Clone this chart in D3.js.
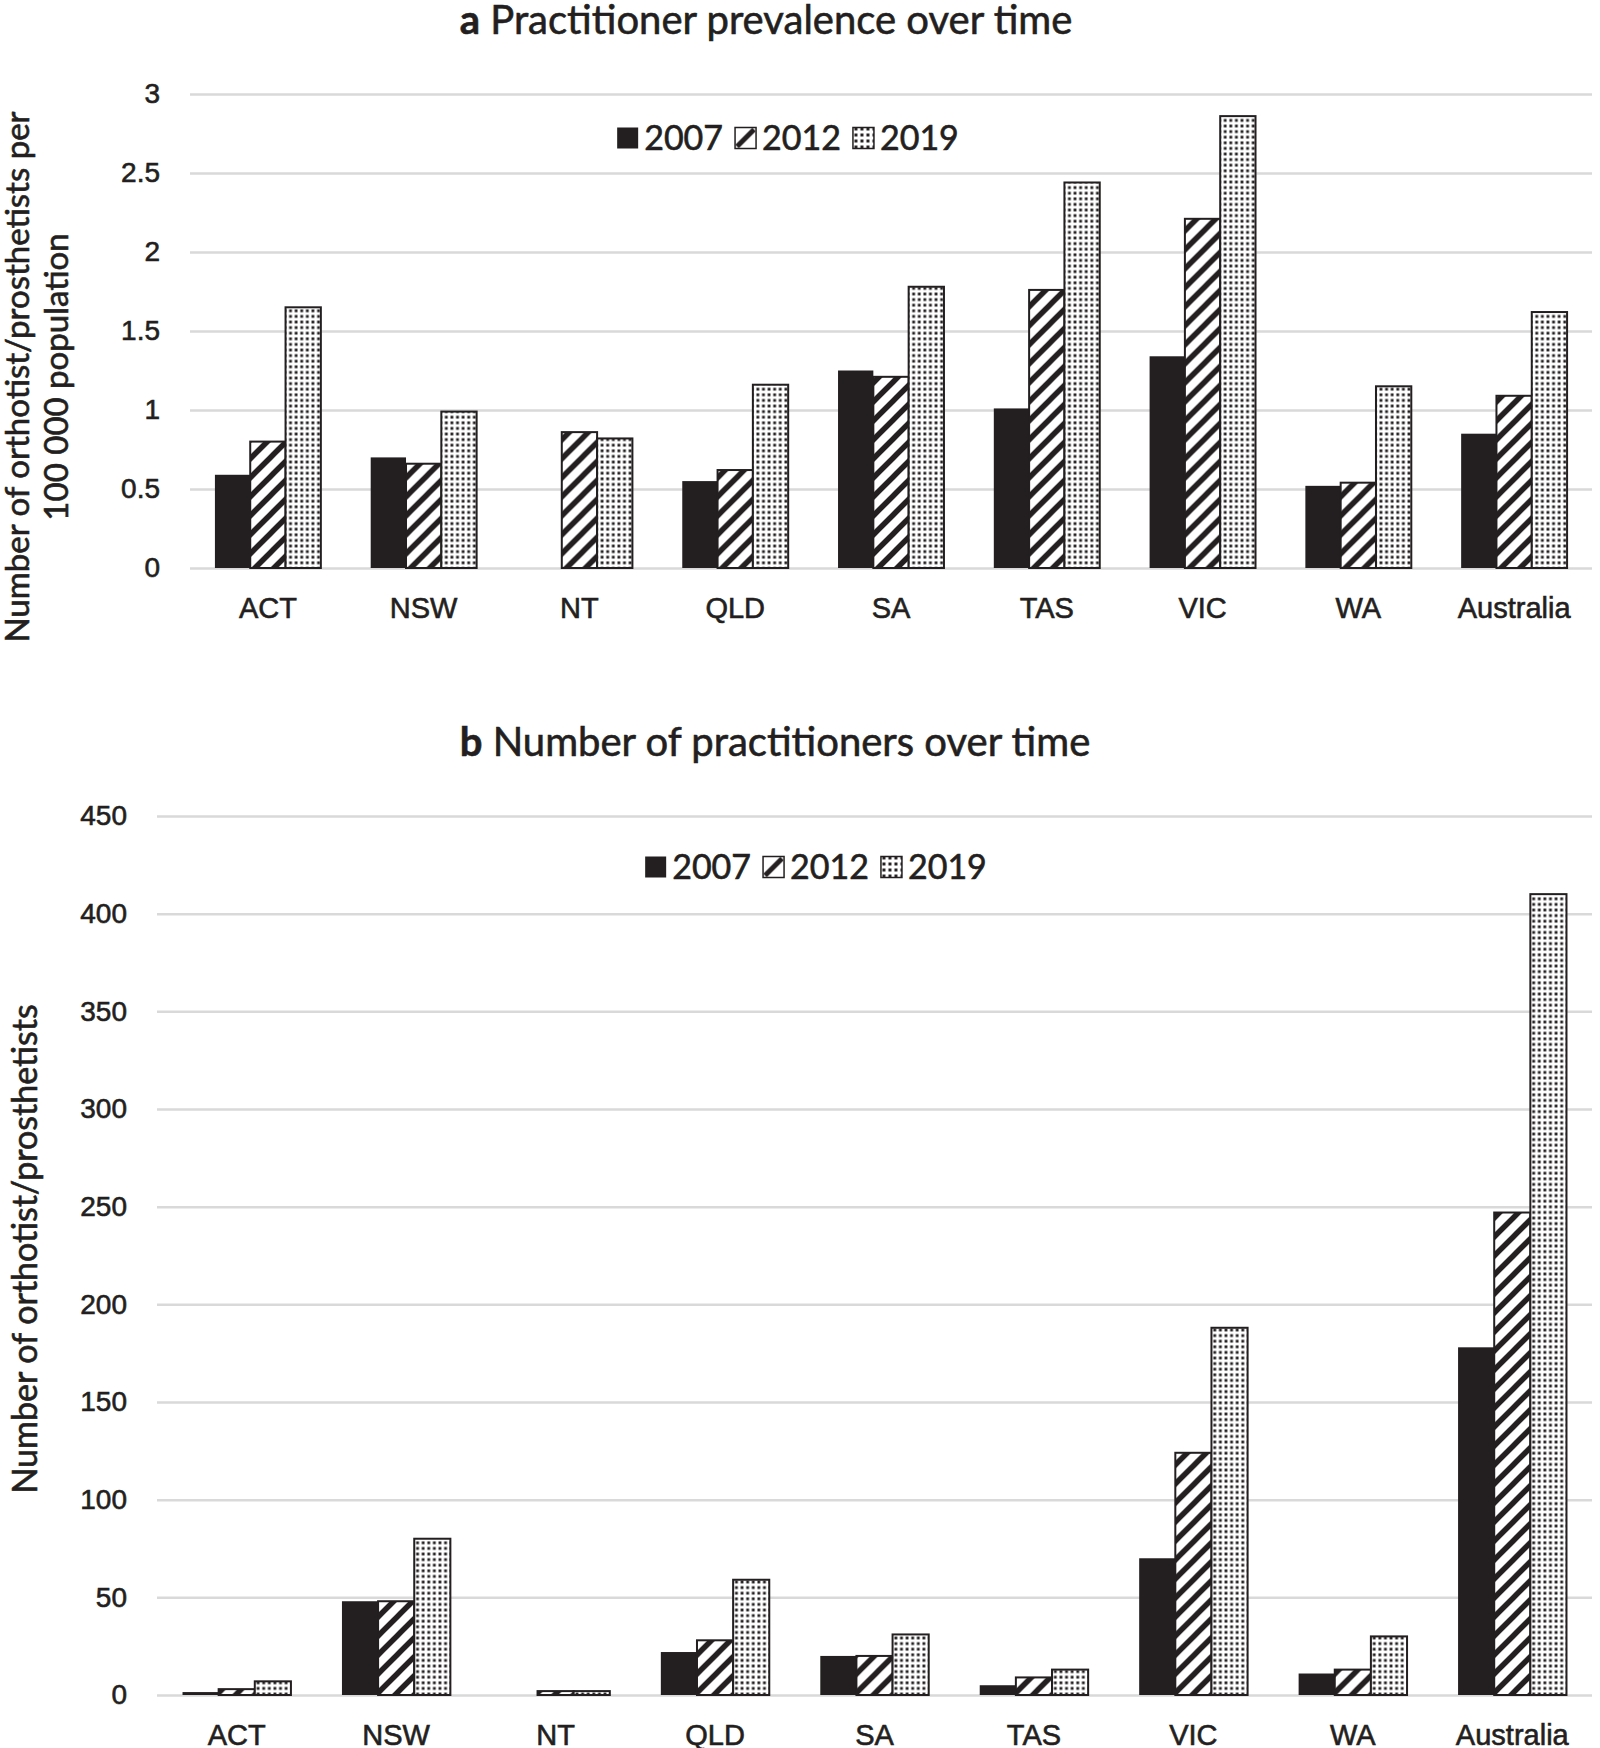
<!DOCTYPE html>
<html>
<head>
<meta charset="utf-8">
<script src="https://cdn.jsdelivr.net/npm/d3@7"></script>
<style>
  body { margin: 0; background: #fff; }
  svg { display: block; font-family: Lato, "Open Sans", sans-serif; }
  svg text { stroke: #231f20; stroke-width: 0.6px; paint-order: stroke; }
</style>
</head>
<body>
<svg id="chart" width="1600" height="1748"></svg>
<script>
const states = ["ACT", "NSW", "NT", "QLD", "SA", "TAS", "VIC", "WA", "Australia"];
const years = ["2007", "2012", "2019"];

// panel a: practitioners per 100 000 population
const prevalence2007 = [0.59, 0.70, null, 0.55, 1.25, 1.01, 1.34, 0.52, 0.85];
const prevalence2012 = [0.80, 0.66, 0.86, 0.62, 1.21, 1.76, 2.21, 0.54, 1.09];
const prevalence2019 = [1.65, 0.99, 0.82, 1.16, 1.78, 2.44, 2.86, 1.15, 1.62];
const prevalenceTicks = [0, 0.5, 1, 1.5, 2, 2.5, 3];

// panel b: number of practitioners
const count2007 = [1.5, 48, null, 22, 20, 5, 70, 11, 178];
const count2012 = [3, 48, 2, 28, 20, 9, 124, 13, 247];
const count2019 = [7, 80, 2, 59, 31, 13, 188, 30, 410];
const countTicks = [0, 50, 100, 150, 200, 250, 300, 350, 400, 450];

const ink = "#231f20";
const gridColor = "#d9d9d9";

const svg = d3.select("#chart");

// fill patterns
const defs = svg.append("defs");
const hatch = defs.append("pattern")
  .attr("id", "hatch")
  .attr("patternUnits", "userSpaceOnUse")
  .attr("width", 19).attr("height", 19);
hatch.append("rect").attr("width", 19).attr("height", 19).attr("fill", "#fff");
hatch.append("path")
  .attr("d", "M0,19 L19,0 M-5,5 L5,-5 M14,24 L24,14")
  .attr("stroke", ink).attr("stroke-width", 5.5);

const dots = defs.append("pattern")
  .attr("id", "dots")
  .attr("patternUnits", "userSpaceOnUse")
  .attr("width", 5.6).attr("height", 5.6);
dots.append("rect").attr("width", 5.6).attr("height", 5.6).attr("fill", "#fff");
dots.append("rect").attr("x", 1.4).attr("y", 1.4).attr("width", 2.8).attr("height", 2.8).attr("fill", ink);

const legendHatch = defs.append("pattern")
  .attr("id", "legendHatch")
  .attr("patternUnits", "objectBoundingBox")
  .attr("width", 1).attr("height", 1);
legendHatch.append("rect").attr("width", 21).attr("height", 21).attr("fill", "#fff");
legendHatch.append("path").attr("d", "M2,19 L19,2").attr("stroke", ink).attr("stroke-width", 5);

const legendDots = defs.append("pattern")
  .attr("id", "legendDots")
  .attr("patternUnits", "userSpaceOnUse")
  .attr("width", 6).attr("height", 6);
legendDots.append("rect").attr("width", 6).attr("height", 6).attr("fill", "#fff");
legendDots.append("rect").attr("x", 1.5).attr("y", 1.5).attr("width", 3).attr("height", 3).attr("fill", ink);

const fills = { "2007": ink, "2012": "url(#hatch)", "2019": "url(#dots)" };
const legendFills = { "2007": ink, "2012": "url(#legendHatch)", "2019": "url(#legendDots)" };

function drawPanel(cfg) {
  const g = svg.append("g");

  const x0 = d3.scaleBand().domain(states).range([cfg.left, cfg.right]).paddingInner(0.32).paddingOuter(0.16);
  const x1 = d3.scaleBand().domain(years).range([0, x0.bandwidth()]);
  const y = d3.scaleLinear().domain([0, cfg.max]).range([cfg.bottom, cfg.top]);

  // gridlines + y tick labels
  const yAxis = g.append("g")
    .attr("transform", `translate(${cfg.left},0)`)
    .call(d3.axisLeft(y).tickValues(cfg.ticks).tickFormat(d3.format("~g"))
      .tickSize(-(cfg.right - cfg.left)).tickPadding(30));
  yAxis.select(".domain").remove();
  yAxis.selectAll(".tick line").attr("stroke", gridColor).attr("stroke-width", 2.5);
  yAxis.selectAll(".tick text").attr("fill", ink).style("font-size", "28px");

  // bars
  const rows = states.map((s, i) => ({ state: s, values: cfg.series.map((arr, j) => ({ year: years[j], value: arr[i] })) }));
  g.append("g")
    .selectAll("g")
    .data(rows)
    .join("g")
    .attr("transform", (d) => `translate(${x0(d.state)},0)`)
    .selectAll("rect")
    .data((d) => d.values.filter((v) => v.value != null))
    .join("rect")
    .attr("x", (d) => x1(d.year))
    .attr("y", (d) => y(d.value))
    .attr("width", x1.bandwidth())
    .attr("height", (d) => y(0) - y(d.value))
    .attr("fill", (d) => fills[d.year])
    .attr("stroke", ink)
    .attr("stroke-width", (d) => (d.year === "2007" ? 0 : 2));

  // category labels
  const xAxis = g.append("g")
    .attr("transform", `translate(0,${cfg.bottom})`)
    .call(d3.axisBottom(x0).tickSize(0).tickPadding(29));
  xAxis.select(".domain").remove();
  xAxis.selectAll(".tick text").attr("fill", ink).style("font-size", "29px");

  // title
  const title = g.append("text")
    .attr("x", cfg.titleX).attr("y", cfg.titleY)
    .attr("text-anchor", "middle")
    .attr("fill", ink)
    .style("font-size", "40px");
  title.append("tspan").attr("font-weight", "bold").text(cfg.letter);
  title.append("tspan").text(" " + cfg.title);

  // legend
  const legend = g.append("g");
  let cursor = 0;
  years.forEach((yr) => {
    const item = legend.append("g").attr("transform", `translate(${cursor},0)`);
    item.append("rect")
      .attr("x", 0).attr("y", -10.5).attr("width", 21).attr("height", 21)
      .attr("fill", legendFills[yr])
      .attr("stroke", ink).attr("stroke-width", yr === "2007" ? 0 : 1.5);
    const t = item.append("text")
      .attr("x", 27).attr("y", 0).attr("dy", "0.36em")
      .attr("fill", ink)
      .style("font-size", "34px")
      .text(yr);
    cursor += 27 + t.node().getComputedTextLength() + 12;
  });
  const legendWidth = cursor - 12;
  legend.attr("transform", `translate(${cfg.legendX - legendWidth / 2},${cfg.legendY})`);

  // y axis label
  const yl = g.append("text")
    .attr("transform", `translate(${cfg.labelX},${cfg.labelY}) rotate(-90)`)
    .attr("text-anchor", "middle")
    .attr("fill", ink)
    .style("font-size", cfg.labelSize);
  cfg.ylabel.forEach((line, i) => {
    yl.append("tspan").attr("x", 0).attr("dy", i === 0 ? "0.35em" : "1.2em").text(line);
  });
}

drawPanel({
  left: 190, right: 1592, top: 94, bottom: 568,
  max: 3, ticks: prevalenceTicks,
  series: [prevalence2007, prevalence2012, prevalence2019],
  letter: "a", title: "Practitioner prevalence over time", titleX: 766, titleY: 34,
  legendX: 788, legendY: 138,
  ylabel: ["Number of orthotist/prosthetists per", "100 000 population"], labelX: 17, labelY: 377, labelSize: "33px"
});

drawPanel({
  left: 157, right: 1592, top: 816, bottom: 1695,
  max: 450, ticks: countTicks,
  series: [count2007, count2012, count2019],
  letter: "b", title: "Number of practitioners over time", titleX: 775, titleY: 756,
  legendX: 816, legendY: 867,
  ylabel: ["Number of orthotist/prosthetists"], labelX: 25, labelY: 1249, labelSize: "34px"
});
</script>
</body>
</html>
